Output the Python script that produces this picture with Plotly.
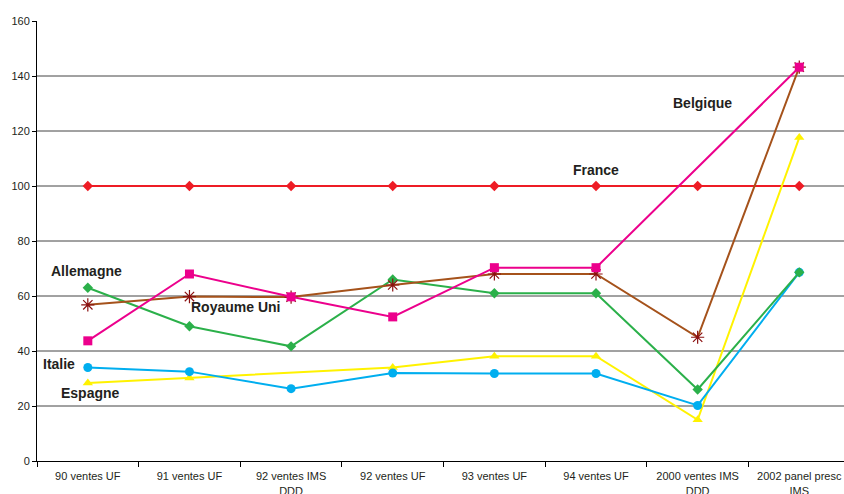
import plotly.graph_objects as go

categories = ["90 ventes UF", "91 ventes UF", "92 ventes IMS<br>DDD", "92 ventes UF",
              "93 ventes UF", "94 ventes UF", "2000 ventes IMS<br>DDD", "2002 panel presc<br>IMS"]

france = [100, 100, 100, 100, 100, 100, 100, 100]
belgique = [43.7, 68, 59.7, 52.4, 70.3, 70.3, None, 143.2]
royaume_uni = [56.8, 59.8, 59.6, 64, 68, 68, 45, 143.2]
allemagne = [63, 49, 41.7, 66, 61, 61, 26, 68.6]
italie = [34, 32.5, 26.3, 32, 31.8, 31.8, 20.2, 68.6]
espagne = [28.4, 30.2, None, 34, 38.1, 38.1, 15, 117.6]

y_ticks = [0, 20, 40, 60, 80, 100, 120, 140, 160]
grid_vals = [20, 40, 60, 80, 100, 120, 140]

fig = go.Figure()

def add(y, name, lcolor, mcolor, symbol, size, lw=2, mline=None):
    marker = dict(color=mcolor, symbol=symbol, size=size)
    if mline:
        marker["line"] = dict(color=mcolor, width=mline)
    fig.add_trace(go.Scatter(x=categories, y=y, name=name, mode="lines+markers",
                             connectgaps=True, line=dict(color=lcolor, width=lw),
                             marker=marker, showlegend=False))

add(france, "France", "#EE1C25", "#EE1C25", "diamond", 8)
add(espagne, "Espagne", "#FFF200", "#FFF200", "triangle-up", 9)
add(italie, "Italie", "#00AEEF", "#00AEEF", "circle", 9)
add(allemagne, "Allemagne", "#2BB04A", "#2BB04A", "diamond", 8)
add(royaume_uni, "Royaume Uni", "#A5521B", "#8B1010", "asterisk-open", 11, mline=1.2)
add(belgique, "Belgique", "#EC008C", "#EC008C", "square", 9)

shapes = [dict(type="line", xref="paper", x0=0, x1=1, yref="y", y0=v, y1=v,
               line=dict(color="#444444", width=1), layer="below") for v in grid_vals]

labels = [("France", 5, 105.8), ("Belgique", 6.05, 130.2), ("Allemagne", -0.01, 69.1),
          ("Royaume Uni", 1.45, 56), ("Italie", -0.28, 35.3), ("Espagne", 0.03, 24.7)]
annotations = [dict(text="<b>%s</b>" % t, x=x, y=y, xref="x", yref="y", showarrow=False,
                    font=dict(family="Liberation Sans, Arial", size=14, color="#231F20"))
               for t, x, y in labels]

fig.update_layout(
    width=844, height=494,
    margin=dict(l=37, r=0, t=21, b=33),
    plot_bgcolor="white", paper_bgcolor="white",
    shapes=shapes, annotations=annotations,
    font=dict(family="Liberation Sans, Arial", size=11, color="#231F20"),
    xaxis=dict(type="category", range=[-0.5, 7.44], showgrid=False, showline=True,
               linecolor="black", linewidth=1, ticks="outside", tickson="boundaries",
               ticklen=5, tickcolor="black", automargin=False, tickangle=0,
               ticklabelstandoff=5,
               tickfont=dict(family="Liberation Sans, Arial", size=11)),
    yaxis=dict(range=[0, 160], tickvals=y_ticks, showgrid=False, zeroline=False,
               showline=True, linecolor="black", linewidth=1, ticks="outside",
               ticklen=4, tickcolor="black", automargin=False, tickfont=dict(size=11)),
)

fig.write_html("out.html", config={"displayModeBar": False},
               post_script="document.body.style.margin='0';document.body.style.overflow='hidden';")
